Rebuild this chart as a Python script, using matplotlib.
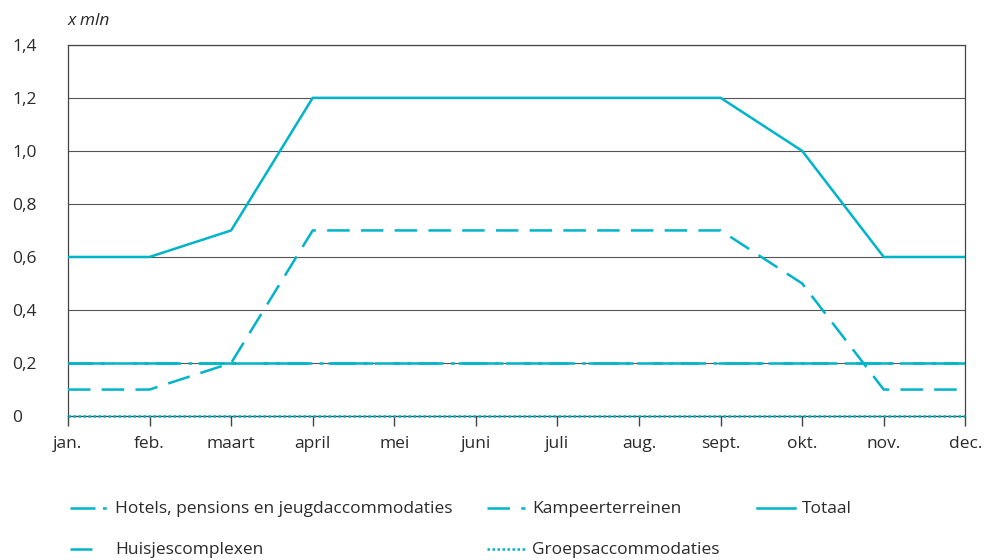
import matplotlib.pyplot as plt
from matplotlib.lines import Line2D
from matplotlib.ticker import FuncFormatter

plt.rcParams['font.family'] = ['Open Sans', 'DejaVu Sans']

# data
months = ['jan.', 'feb.', 'maart', 'april', 'mei', 'juni', 'juli', 'aug.',
          'sept.', 'okt.', 'nov.', 'dec.']
hotels = [0.2] * 12
huisjes = [0.2] * 12
kampeer = [0.1, 0.1, 0.2, 0.7, 0.7, 0.7, 0.7, 0.7, 0.7, 0.5, 0.1, 0.1]
groeps = [0.0] * 12
totaal = [0.6, 0.6, 0.7, 1.2, 1.2, 1.2, 1.2, 1.2, 1.2, 1.0, 0.6, 0.6]

col = '#00b4c9'
txt = '#2a2a2a'
fs = 12.5
styles = {
    'hotels': (0, (10, 3, 1.5, 3)),
    'huisjes': (0, (18, 8)),
    'kampeer': (0, (9, 4.5)),
    'groeps': (0, (1, 1)),
    'totaal': '-',
}

fig = plt.figure(figsize=(9.85, 5.6), dpi=100)
ax = fig.add_axes([0.069, 0.257, 0.911, 0.663])

x = range(len(months))
ax.plot(x, huisjes, color=col, lw=1.8, linestyle=styles['huisjes'], zorder=3)
ax.plot(x, hotels, color=col, lw=1.8, linestyle=styles['hotels'], zorder=3)
ax.plot(x, kampeer, color=col, lw=1.8, linestyle=styles['kampeer'], zorder=3)
ax.plot(x, groeps, color=col, lw=1.8, linestyle=styles['groeps'], zorder=4,
        clip_on=False)
ax.plot(x, totaal, color=col, lw=1.8, linestyle=styles['totaal'], zorder=3)

ax.set_xlim(0, 11)
ax.set_ylim(0, 1.4)
ax.set_yticks([0, 0.2, 0.4, 0.6, 0.8, 1.0, 1.2, 1.4])
ax.yaxis.set_major_formatter(FuncFormatter(
    lambda v, p: '0' if v == 0 else f'{v:.1f}'.replace('.', ',')))
ax.set_xticks(list(x))
ax.set_xticklabels(months)
ax.grid(axis='y', color='#555555', lw=0.8, zorder=1)
ax.tick_params(axis='x', direction='out', length=7, width=1, color='#444444',
               labelsize=fs, pad=7, labelcolor=txt)
ax.tick_params(axis='y', length=0, labelsize=fs, pad=40, labelcolor=txt)
for t in ax.get_yticklabels():
    t.set_horizontalalignment('left')
for s in ax.spines.values():
    s.set_color('#444444')
    s.set_linewidth(0.9)

fig.text(0.069, 0.962, 'x mln', fontsize=fs, style='italic', color=txt,
         va='center', ha='left')

# legend (manual layout)
legend_items = [
    ('hotels', 'Hotels, pensions en jeugdaccommodaties', 70, 508),
    ('kampeer', 'Kampeerterreinen', 487, 508),
    ('totaal', 'Totaal', 757, 508),
    ('huisjes', 'Huisjescomplexen', 70, 549),
    ('groeps', 'Groepsaccommodaties', 487, 549),
]
W, H = 985, 560
for key, label, px, py in legend_items:
    ls = styles[key]
    x0, x1 = px, px + 38
    if key == 'huisjes':
        x1 = px + 22
    fig.add_artist(Line2D([x0 / W, x1 / W], [1 - py / H, 1 - py / H],
                          color=col, lw=1.8, linestyle=ls))
    fig.text((px + 45) / W, 1 - (py + 1) / H, label, fontsize=fs, color=txt,
             va='center', ha='left')

fig.savefig('out.png', dpi=100)
